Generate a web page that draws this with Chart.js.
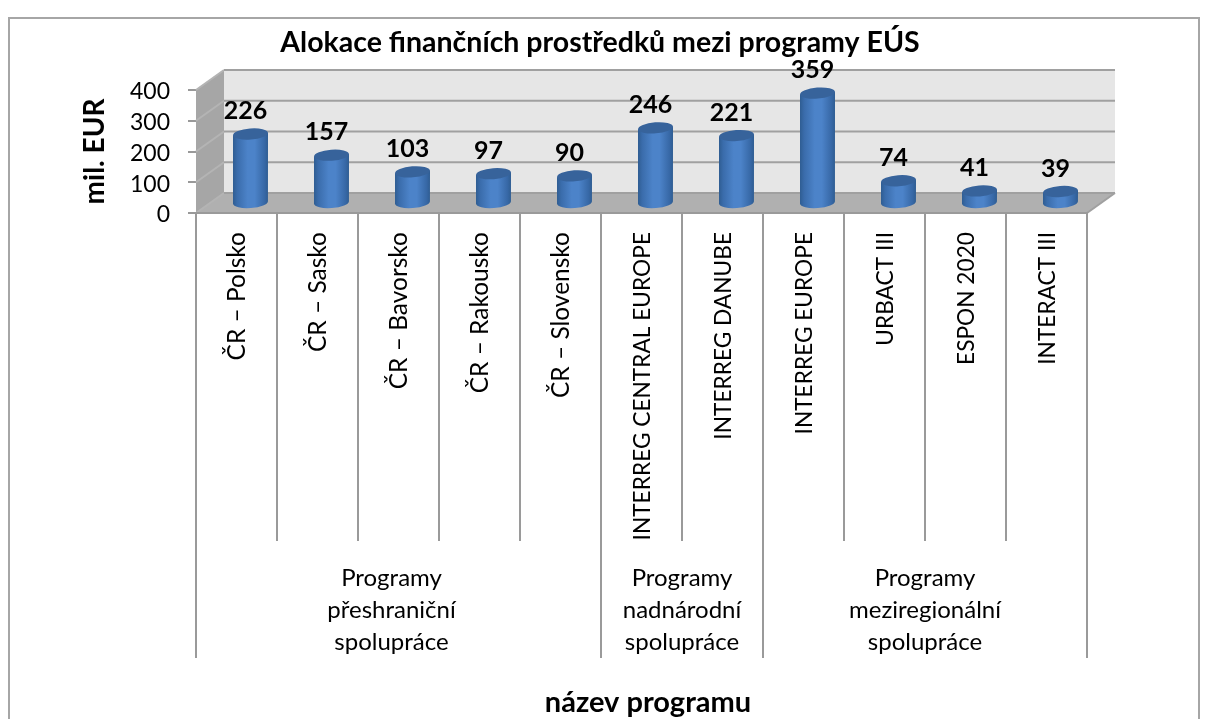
<!DOCTYPE html>
<html><head><meta charset="utf-8">
<style>html,body{margin:0;padding:0;background:#fff;overflow:hidden}canvas{display:block}</style>
<script src="https://cdn.jsdelivr.net/npm/chart.js@4"></script>
</head><body>
<canvas id="c" width="1208" height="719"></canvas>
<script>
const chartTitle = 'Alokace finančních prostředků mezi programy EÚS';
const categories = ['ČR – Polsko','ČR – Sasko','ČR – Bavorsko','ČR – Rakousko','ČR – Slovensko','INTERREG CENTRAL EUROPE','INTERREG DANUBE','INTERREG EUROPE','URBACT III','ESPON 2020','INTERACT III'];
const values = [226,157,103,97,90,246,221,359,74,41,39];
const groupLabels = [['Programy','přeshraniční','spolupráce'],['Programy','nadnárodní','spolupráce'],['Programy','meziregionální','spolupráce']];
const groupSizes = [5,2,4];
const yTitle = 'mil. EUR';
const xTitle = 'název programu';
const FONT = 'Lato, Carlito, sans-serif';
const D = {dx:28, dy:-20};

const scene = {
  id:'scene',
  afterLayout(chart){ const t=chart.titleBlock; t.left=0; t.right=1200; },
  beforeDraw(chart){
    const c=chart.ctx;
    c.save(); c.strokeStyle='#a6a6a6'; c.lineWidth=2;
    c.strokeRect(9,18,1190,760); c.restore();
  },
  beforeDatasetsDraw(chart){
    const c=chart.ctx, a=chart.chartArea, y=chart.scales.y, x=chart.scales.x;
    const l=a.left, r=a.right, t=a.top, b=a.bottom;
    c.save();
    c.fillStyle='#e6e6e6'; c.fillRect(l+D.dx,t+D.dy,r-l,b-t);
    c.fillStyle='#a6a6a6';
    c.beginPath(); c.moveTo(l,t); c.lineTo(l+D.dx,t+D.dy); c.lineTo(l+D.dx,b+D.dy); c.lineTo(l,b); c.closePath(); c.fill();
    c.fillStyle='#b0b0b0';
    c.beginPath(); c.moveTo(l,b); c.lineTo(l+D.dx,b+D.dy); c.lineTo(r+D.dx,b+D.dy); c.lineTo(r,b); c.closePath(); c.fill();
    c.lineWidth=2;
    y.ticks.forEach(tk=>{
      const py=y.getPixelForValue(tk.value);
      c.strokeStyle='#b4b4b4';
      c.beginPath(); c.moveTo(l,py); c.lineTo(l+D.dx,py+D.dy); c.stroke();
      c.strokeStyle='#a0a0a0';
      c.beginPath(); c.moveTo(l+D.dx,py+D.dy); c.lineTo(r+D.dx,py+D.dy); c.stroke();
    });
    c.strokeStyle='#a0a0a0';
    c.beginPath(); c.moveTo(r,b); c.lineTo(r+D.dx,b+D.dy); c.stroke();
    c.strokeStyle='#9a9a9a';
    c.beginPath(); c.moveTo(l-1,b); c.lineTo(r+1,b); c.stroke();
    const step=(r-l)/categories.length;
    const groupEnds=new Set([0]); let acc=0;
    groupSizes.forEach(n=>{acc+=n; groupEnds.add(acc);});
    for(let i=0;i<=categories.length;i++){
      const px=i<categories.length ? x.getPixelForValue(i)-step/2 : x.getPixelForValue(i-1)+step/2;
      c.beginPath(); c.moveTo(px,b); c.lineTo(px,groupEnds.has(i)?658:541); c.stroke();
    }
    c.restore();
  },
  beforeDatasetDraw(chart,args){
    const c=chart.ctx;
    const meta=chart.getDatasetMeta(args.index);
    meta.data.forEach(el=>{
      const p=el.getProps(['x','y','base','width'],true);
      const cx=p.x+14, rx=p.width/2, ry=5.5, rot=-0.075;
      const top=p.y-9.5, base=p.base-9.5;
      c.save();
      const g=c.createLinearGradient(cx-rx,0,cx+rx,0);
      g.addColorStop(0,'#2f5d92'); g.addColorStop(0.12,'#3a6cab');
      g.addColorStop(0.42,'#4c83c9'); g.addColorStop(0.62,'#4c83c9');
      g.addColorStop(0.9,'#3768a6'); g.addColorStop(1,'#2f5d92');
      c.fillStyle=g;
      const dy=Math.sin(rot)*rx;
      c.beginPath();
      c.moveTo(cx-rx,top-dy);
      c.lineTo(cx-rx,base-dy);
      c.ellipse(cx,base,rx,ry,rot,Math.PI,0,true);
      c.lineTo(cx+rx,top+dy);
      c.closePath();
      c.fill();
      c.fillStyle='#37639b';
      c.beginPath(); c.ellipse(cx,top,rx,ry,rot,0,Math.PI*2); c.fill();
      c.restore();
    });
    return false;
  },
  afterDatasetsDraw(chart){
    const c=chart.ctx, x=chart.scales.x, meta=chart.getDatasetMeta(0);
    c.save();
    c.fillStyle='#000'; c.textAlign='center'; c.textBaseline='middle';
    c.font='bold 25px '+FONT;
    meta.data.forEach((el,i)=>{ c.fillText(String(values[i]),el.x+9,el.y-9.5-23); });
    c.font='24px '+FONT;
    let start=0;
    groupSizes.forEach((n,g)=>{
      const nudge=g===0?-7:0;
      const cx=(x.getPixelForValue(start)+x.getPixelForValue(start+n-1))/2+nudge;
      groupLabels[g].forEach((line,k)=>c.fillText(line,cx,578+k*32));
      start+=n;
    });
    c.font='bold 29px '+FONT;
    c.fillText(xTitle,648,703);
    c.restore();
  }
};

new Chart(document.getElementById('c'),{
  type:'bar',
  data:{labels:categories,datasets:[{data:values,backgroundColor:'#4a80c4',barThickness:35}]},
  plugins:[scene],
  options:{
    responsive:false,animation:false,
    events:[],
    layout:{padding:{left:78,right:121,top:0,bottom:0}},
    plugins:{
      legend:{display:false},tooltip:{enabled:false},
      title:{display:true,text:chartTitle,color:'#000',font:{family:FONT,size:28.5,weight:'bold',lineHeight:1.2},padding:{top:26,bottom:29.8}}
    },
    scales:{
      x:{
        type:'category',
        grid:{display:false,drawTicks:false},border:{display:false},
        ticks:{autoSkip:false,minRotation:90,maxRotation:90,padding:19,labelOffset:1,color:'#000',
          font:ctx=>({family:FONT,size:ctx.index<5?24.5:22.7})},
        afterFit(s){s.height=506;}
      },
      y:{
        min:0,max:400,
        grid:{drawOnChartArea:false,drawTicks:true,tickLength:8,color:'#999',lineWidth:2},
        border:{display:false},
        ticks:{stepSize:100,padding:18,labelOffset:2,color:'#000',font:{family:FONT,size:23}},
        title:{display:true,text:yTitle,color:'#000',font:{family:FONT,size:28,weight:'bold',lineHeight:1.2},padding:0},
        afterFit(s){s.width=118;}
      }
    }
  }
});
</script>
</body></html>
